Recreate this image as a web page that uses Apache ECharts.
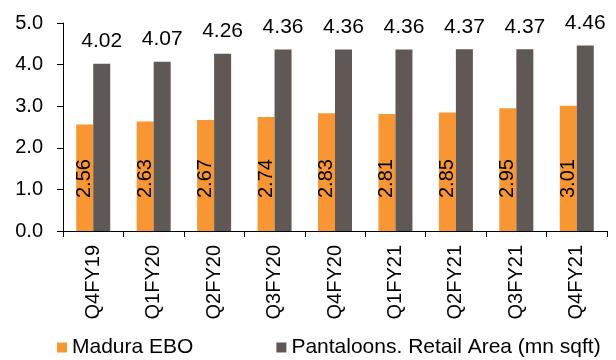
<!DOCTYPE html>
<html>
<head>
<meta charset="utf-8">
<script src="https://cdn.jsdelivr.net/npm/echarts@6/dist/echarts.min.js"></script>
<style>html,body{margin:0;padding:0;background:#fff}#c{width:616px;height:360px}</style>
</head>
<body>
<div id="c"></div>
<script>
var categories = ['Q4FY19','Q1FY20','Q2FY20','Q3FY20','Q4FY20','Q1FY21','Q2FY21','Q3FY21','Q4FY21'];
var maduraEBO = [2.56, 2.63, 2.67, 2.74, 2.83, 2.81, 2.85, 2.95, 3.01];
var pantaloonsArea = [4.02, 4.07, 4.26, 4.36, 4.36, 4.36, 4.37, 4.37, 4.46];
var seriesNames = ['Madura EBO', 'Pantaloons. Retail Area (mn sqft)'];

var FONT = 'Liberation Sans, Arial, sans-serif';
var chart = echarts.init(document.getElementById('c'), null, {renderer: 'canvas'});
chart.setOption({
  animation: false,
  backgroundColor: '#fff',
  textStyle: {fontFamily: FONT},
  grid: {left: 63, right: 9, top: 23, bottom: 129},
  legend: {
    left: 52, top: 332, width: 560, padding: 5,
    itemWidth: 10, itemHeight: 10, itemGap: 83,
    icon: 'rect',
    textStyle: {fontFamily: FONT, fontSize: 21, color: '#000'},
    data: seriesNames
  },
  xAxis: {
    type: 'category',
    data: categories,
    axisLine: {lineStyle: {color: '#000', width: 1}},
    axisTick: {show: true, length: 6, alignWithLabel: false, lineStyle: {color: '#000'}},
    axisLabel: {rotate: 90, margin: 14, fontFamily: FONT, fontSize: 20, color: '#000', interval: 0}
  },
  yAxis: {
    type: 'value',
    min: 0, max: 5, interval: 1,
    splitLine: {show: false},
    axisLine: {show: true, lineStyle: {color: '#000', width: 1}},
    axisTick: {show: true, length: 6, lineStyle: {color: '#000'}},
    axisLabel: {margin: 20, fontFamily: FONT, fontSize: 20, color: '#000', formatter: function (v) { return v.toFixed(1); }}
  },
  series: [
    {
      name: seriesNames[0], type: 'bar', data: maduraEBO,
      barWidth: 17, barGap: '0%',
      itemStyle: {color: '#F79633'},
      label: {
        show: true, position: 'insideBottom', distance: 33, rotate: 90,
        align: 'left', verticalAlign: 'middle',
        fontFamily: FONT, fontSize: 20, color: '#000',
        formatter: function (p) { return p.value.toFixed(2); }
      }
    },
    {
      name: seriesNames[1], type: 'bar', data: pantaloonsArea,
      barWidth: 17,
      itemStyle: {color: '#5F5854'},
      label: {
        show: true, position: 'top', distance: 12,
        fontFamily: FONT, fontSize: 21, color: '#000',
        formatter: function (p) { return p.value.toFixed(2); }
      }
    }
  ]
});
</script>
</body>
</html>
